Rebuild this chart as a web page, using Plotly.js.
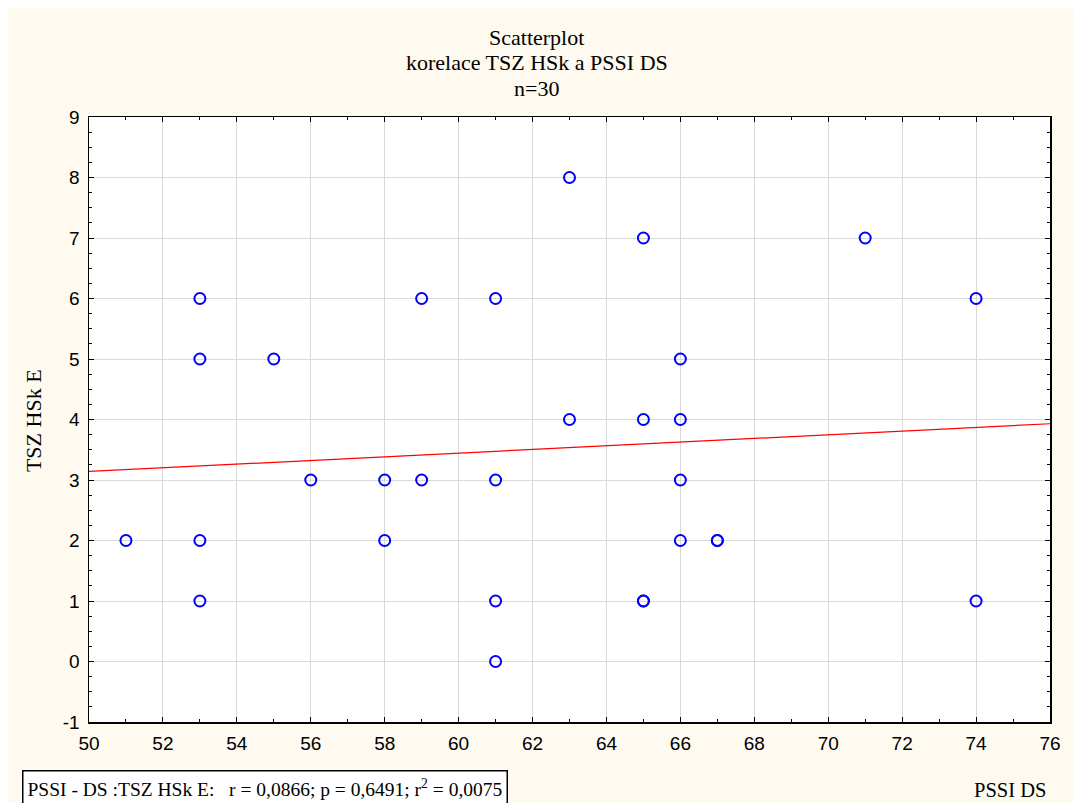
<!DOCTYPE html>
<html>
<head>
<meta charset="utf-8">
<script src="https://cdn.plot.ly/plotly-3.0.1.min.js"></script>
<style>
html,body{margin:0;padding:0;background:#ffffff;}
#chart{position:absolute;left:8px;top:8px;width:1065px;height:795px;}
</style>
</head>
<body>
<div id="chart"></div>
<script>
// PSSI DS (x) and TSZ HSk E (y), n=30
const pssiDS = [51,53,53,53,53,55,56,58,58,59,59,61,61,61,61,63,63,65,65,65,65,66,66,66,66,67,67,71,74,74];
const tszHSkE = [2,6,5,2,1,5,3,3,2,6,3,6,3,1,0,8,4,7,4,1,1,5,4,3,2,2,2,7,6,1];
const xRange = [50,76];
const yRange = [-1,9];
const yTickVals = [-1,0,1,2,3,4,5,6,7,8,9];
const yTickText = ["-1","0","1","2","3","4","5","6","7","8","9"];
const titleLines = ["Scatterplot","korelace TSZ HSk a PSSI DS","n=30"];
const xTitle = "PSSI DS";
const yTitle = "TSZ HSk E";
const statsText = "PSSI - DS :TSZ HSk E:   r = 0,0866; p = 0,6491; r<sup>2</sup> = 0,0075";

// least-squares fit line
const n = pssiDS.length;
const mx = pssiDS.reduce((a,b)=>a+b,0)/n;
const my = tszHSkE.reduce((a,b)=>a+b,0)/n;
let sxy=0,sxx=0;
for(let i=0;i<n;i++){sxy+=(pssiDS[i]-mx)*(tszHSkE[i]-my);sxx+=(pssiDS[i]-mx)**2;}
const slope = sxy/sxx, icpt = my - slope*mx;
const fitX = xRange.slice();
const fitY = fitX.map(v=>icpt+slope*v);

const serif = "Liberation Serif, Times New Roman, serif";
const sans = "Liberation Sans, Arial, sans-serif";

const traces = [
  {x: fitX, y: fitY, mode:'lines', line:{color:'#ff0000', width:1.2}, hoverinfo:'skip', showlegend:false},
  {x: pssiDS, y: tszHSkE, mode:'markers', showlegend:false,
   marker:{symbol:'circle-open', size:11, color:'#0000ff', line:{width:2, color:'#0000ff'}}}
];

const axisCommon = {
  showline:true, linecolor:'#000000', linewidth:1.5, mirror:'allticks',
  ticks:'inside', ticklen:5, tickwidth:1, tickcolor:'#000000',
  showgrid:true, gridcolor:'#d9d9d9', gridwidth:1, zeroline:false,
  tickfont:{family:sans, size:19, color:'#000000'}
};

const titleY = [1.1306, 1.0893, 1.0479];
const annotations = titleLines.map((t,i)=>({
  text:t, xref:'paper', yref:'paper', x:0.466, y:titleY[i], xanchor:'center', yanchor:'middle',
  showarrow:false, font:{family:serif, size:22, color:'#000000'}
}));
annotations.push(
  {text: statsText, xref:'paper', yref:'paper', x:-0.0697, y:-0.0793, xanchor:'left', yanchor:'top',
   showarrow:false, font:{family:serif, size:19.5, color:'#000000'}, align:'left',
   bordercolor:'#000000', borderwidth:1.5, borderpad:4, bgcolor:'#ffffff'},
  {text: xTitle, xref:'paper', yref:'paper', x:0.998, y:-0.1124, xanchor:'right', yanchor:'middle',
   showarrow:false, font:{family:serif, size:20.5, color:'#000000'}},
  {text: yTitle, xref:'paper', yref:'paper', x:-0.0583, y:0.499, xanchor:'center', yanchor:'middle',
   textangle:-90, showarrow:false, font:{family:serif, size:22, color:'#000000'}}
);

const layout = {
  width:1065, height:795,
  paper_bgcolor:'#fefaef', plot_bgcolor:'#ffffff',
  margin:{l:81, r:23, t:109, b:81},
  xaxis: Object.assign({}, axisCommon, {range:xRange, dtick:2, tick0:50, ticklabelstandoff:4,
    minor:{dtick:1, ticks:'inside', ticklen:3, tickcolor:'#000000', showgrid:false}}),
  yaxis: Object.assign({}, axisCommon, {range:yRange, tickmode:'array', tickvals:yTickVals, ticktext:yTickText,
    ticklabelstandoff:4,
    minor:{dtick:0.25, tick0:0, ticks:'inside', ticklen:3, tickcolor:'#000000', showgrid:false}}),
  annotations: annotations
};

Plotly.newPlot('chart', traces, layout, {displayModeBar:false, staticPlot:true});
</script>
</body>
</html>
